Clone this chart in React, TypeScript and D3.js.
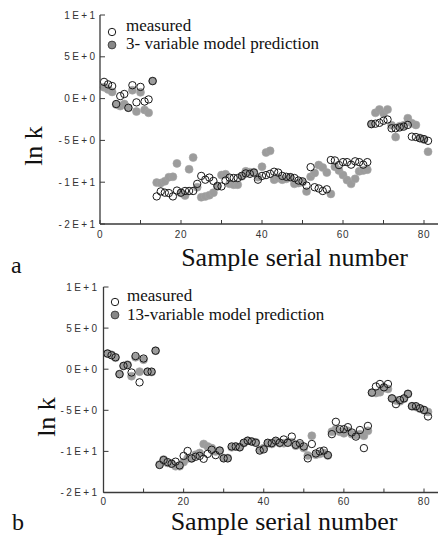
import React from 'react';
import * as d3 from 'd3';

// Sample serial numbers 1..81 (categories)
const sampleCount = 81;

const xTicks = [0, 10, 20, 30, 40, 50, 60, 70, 80];
const xTickLabels = ['0', '', '20', '', '40', '', '60', '', '80'];
const yTicks = [10, 5, 0, -5, -10, -15];
const yTickLabels = ['1E+1', '5E+0', '0E+0', '-5E+0', '-1E+1', '-2E+1'];

// Panel a
const measuredA = [
  2.0, 1.7, 1.5, -0.65, 0.3, 0.55, -1.1, 1.6, -0.45, 1.4, -0.35, -0.1, 2.1,
  -11.7, -11.1, -11.25, -11.3, -11.7, -11.0, -11.25, -11.05, -11.05, -11.05,
  -10.2, -9.25, -9.7, -9.45, -9.85, -10.45, -10.5, -9.8, -9.45, -9.5,
  -9.5, -9.25, -8.95, -9.0, -8.85, -9.7, -9.25, -9.15, -9.0, -8.75,
  -8.85, -9.25, -9.35, -9.4, -9.5, -9.8, -9.9, -10.4, -8.2, -10.6,
  -10.75, -11.05, -10.85, -7.35, -7.4, -7.95, -7.6, -7.6, -7.9, -7.5,
  -7.6, -7.9, -7.6,
  -3.05, -3.0, -2.9, -2.65, -2.5, -3.55, -3.55, -3.45, -3.35, -3.15,
  -4.55, -4.6, -4.75, -4.85, -5.05,
];
const predictedA = [
  1.35, 1.1, 0.8, -0.7, -0.9, -0.65, -1.1, 1.0, -1.55, 0.75, -1.35, -1.7, 2.1,
  -10.05, -10.1, -9.9, -9.4, -9.35, -7.75, -11.3, -11.6, -8.45, -7.05,
  -10.6, -11.8, -11.7, -11.55, -11.25, -10.5, -9.15, -9.05, -10.2, -10.3,
  -10.3, -9.3, -8.7, -8.8, -8.8, -9.4, -8.15, -6.45, -6.25, -9.7,
  -9.5, -9.7, -9.6, -9.4, -10.2, -10.1, -10.0, -11.1, -9.35, -8.9,
  -7.95, -8.25, -8.85, -11.4, -8.15, -8.6, -9.15, -9.75, -10.2, -9.6,
  -8.7, -8.6, -8.5,
  -3.05, -1.7, -1.3, -1.75, -1.3, -3.2, -4.6, -3.3, -3.2, -2.35,
  -2.95, -3.15, -4.7, -4.9, -6.35,
];

// Panel b
const measuredB = [
  1.9, 1.7, 1.45, -0.6, 0.4, 0.5, -0.4, 1.6, -1.6, 1.3, -0.3, -0.3, 2.25,
  -11.65, -11.05, -11.3, -11.5, -11.25, -11.7, -10.55, -9.95, -10.85, -10.65,
  -10.55, -10.9, -10.3, -9.8, -10.45, -9.9, -10.85, -10.85, -9.4, -9.4,
  -9.5, -8.95, -8.7, -8.8, -8.95, -9.9, -9.75, -8.95, -9.0, -8.7,
  -8.95, -8.55, -8.95, -8.2, -9.2, -9.0, -9.4, -10.85, -9.1, -10.25,
  -10.0, -9.9, -10.45, -7.9, -6.4, -7.3, -7.3, -7.05, -7.7, -8.2,
  -7.4, -9.6, -6.9,
  -2.85, -2.1, -1.8, -2.2, -1.8, -3.55, -4.25, -3.75, -3.55, -3.0,
  -4.5, -4.5, -4.75, -4.95, -5.75,
];
const predictedB = [
  1.9, 1.75, 1.4, -0.6, 0.4, 0.55, -0.85, 1.45, -0.3, 1.15, -0.3, -0.35, 2.25,
  -11.6, -11.0, -11.4, -11.5, -11.8, -11.8, -11.3, -10.85, -10.85, -10.4,
  -10.2, -9.1, -9.4, -9.6, -10.0, -9.9, -10.8, -10.8, -9.5, -9.4,
  -9.5, -9.0, -8.7, -8.8, -8.9, -9.8, -9.6, -9.0, -9.1, -8.8,
  -9.0, -9.0, -8.9, -8.9, -9.3, -9.2, -9.6, -10.5, -8.1, -10.4,
  -10.3, -10.2, -10.5, -7.6, -7.3, -7.6, -7.8, -7.5, -7.9, -8.0,
  -7.9, -8.1, -7.5,
  -2.85, -2.9, -2.8, -2.3, -2.4, -3.55, -3.8, -3.9, -3.6, -3.0,
  -4.5, -4.6, -4.8, -5.0, -5.2,
];

const legendMeasured = 'measured';
const legendA = '3- variable model prediction';
const legendB = '13-variable model prediction';
const xTitle = 'Sample serial number';
const yTitle = 'ln k';

const SERIF = "'Liberation Serif', 'Times New Roman', Times, serif";
const SANS = "'Liberation Sans', Arial, Helvetica, sans-serif";
const AXIS = '#3a3a3a';

type Geo = {
  left: number; x80: number; top: number; bottom: number; right: number;
  legX: number; legTx: number; c1: number; c2: number; b1: number; b2: number;
  xTitleX: number; xTitleY: number; yTitleX: number; yTitleY: number;
  letterX: number; letterY: number; xLabY: number; yLabX: number;
};

const serifStyle = (size: number) => ({ fontFamily: SERIF, fontSize: size + 'px' });
const sansStyle = (size: number, ls: number) => ({ fontFamily: SANS, fontSize: size + 'px', letterSpacing: ls + 'px' });

function Panel({ measured, predicted, legend, letter, g }: {
  measured: number[]; predicted: number[]; legend: string; letter: string; g: Geo;
}) {
  const x = d3.scaleLinear().domain([0, 80]).range([g.left, g.x80]);
  const y = d3.scaleLinear().domain([-15, 10]).range([g.bottom, g.top]);
  const idx = d3.range(sampleCount);
  return (
    <g>
      {idx.map((i) => (
        <circle key={'p' + i} cx={x(i + 1)} cy={y(predicted[i])} r={4} fill="#9c9c9c" stroke="#a4a4a4" strokeWidth={0.6} />
      ))}
      {idx.map((i) => (
        <circle key={'m' + i} cx={x(i + 1)} cy={y(measured[i])} r={3.7} fill="none" stroke="#1a1a1a" strokeWidth={1} />
      ))}
      <line x1={g.left} x2={g.left} y1={g.top} y2={g.bottom} stroke={AXIS} strokeWidth={1.3} />
      <line x1={g.left} x2={g.right} y1={g.bottom} y2={g.bottom} stroke={AXIS} strokeWidth={1.3} />
      {yTicks.map((t, i) => (
        <g key={'yt' + i}>
          <line x1={g.left} x2={g.left + 5} y1={y(t)} y2={y(t)} stroke={AXIS} strokeWidth={1} />
          <text x={g.yLabX} y={y(t) + 3.6} textAnchor="end" style={sansStyle(10, 2.4)} fill="#333">{yTickLabels[i]}</text>
        </g>
      ))}
      {xTicks.map((t, i) => (
        <g key={'xt' + i}>
          <line x1={x(t)} x2={x(t)} y1={g.bottom} y2={g.bottom - 4} stroke={AXIS} strokeWidth={1} />
          {xTickLabels[i] && (
            <text x={x(t)} y={g.xLabY} textAnchor="middle" style={sansStyle(10, 0.6)} fill="#333">{xTickLabels[i]}</text>
          )}
        </g>
      ))}
      <circle cx={g.legX} cy={g.c1} r={3.7} fill="#fff" stroke="#1a1a1a" strokeWidth={1} />
      <text x={g.legTx} y={g.b1} style={serifStyle(17)} fill="#111">{legendMeasured}</text>
      <circle cx={g.legX} cy={g.c2} r={3.9} fill="#888" stroke="#444" strokeWidth={1} />
      <text x={g.legTx} y={g.b2} style={serifStyle(17)} fill="#111">{legend}</text>
      <text x={g.xTitleX} y={g.xTitleY} textAnchor="middle" style={serifStyle(26)} fill="#111">{xTitle}</text>
      <text transform={`translate(${g.yTitleX},${g.yTitleY}) rotate(-90)`} textAnchor="middle" style={serifStyle(26)} fill="#111">{yTitle}</text>
      <text x={g.letterX} y={g.letterY} style={serifStyle(24)} fill="#111">{letter}</text>
    </g>
  );
}

const geoA: Geo = {
  left: 100, x80: 424, top: 15, bottom: 224, right: 438,
  legX: 112, legTx: 126, c1: 32, c2: 45, b1: 31, b2: 49,
  xTitleX: 294.5, xTitleY: 266, yTitleX: 42, yTitleY: 146,
  letterX: 11, letterY: 273, xLabY: 237.5, yLabX: 97.5,
};
const geoB: Geo = {
  left: 103.5, x80: 424, top: 287, bottom: 492.5, right: 438,
  legX: 115, legTx: 127, c1: 302, c2: 315, b1: 301, b2: 320,
  xTitleX: 284, xTitleY: 530, yTitleX: 55, yTitleY: 417,
  letterX: 12, letterY: 530, xLabY: 505, yLabX: 99.5,
};

export default function App() {
  return (
    <svg width={438} height={538} style={{ position: 'absolute', left: 0, top: 0, background: '#fff' }}>
      <rect width={438} height={538} fill="#fff" />
      <Panel measured={measuredA} predicted={predictedA} legend={legendA} letter="a" g={geoA} />
      <Panel measured={measuredB} predicted={predictedB} legend={legendB} letter="b" g={geoB} />
    </svg>
  );
}
